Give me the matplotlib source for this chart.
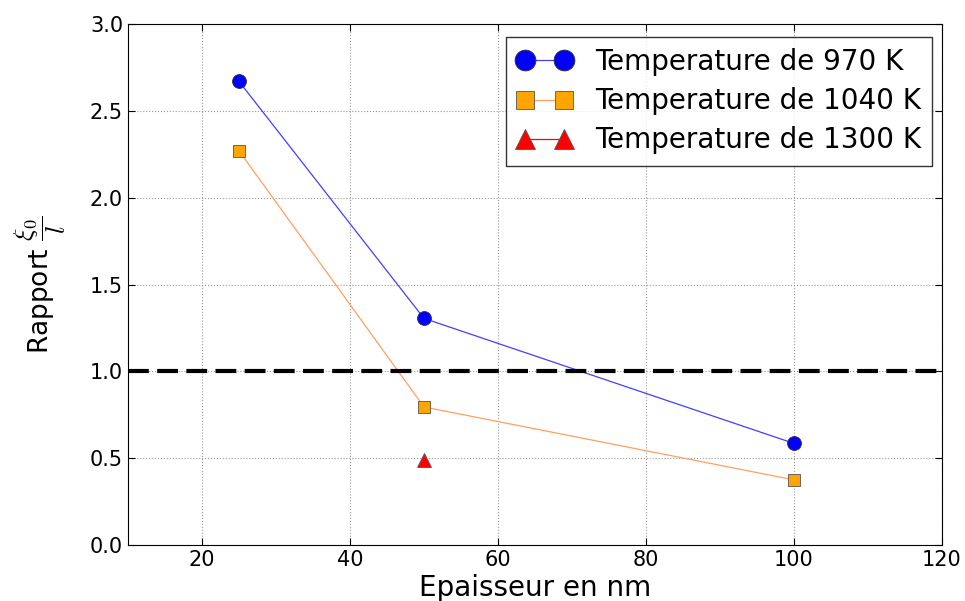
import matplotlib
matplotlib.use("Agg")
import matplotlib.pyplot as plt

# epaisseur (nm) et rapport xi0 / l
ep_970 = [25, 50, 100]
r_970 = [2.67, 1.305, 0.585]
ep_1040 = [25, 50, 100]
r_1040 = [2.27, 0.795, 0.375]
ep_1300 = [50]
r_1300 = [0.49]
seuil = 1.0

plt.rcParams.update({
    "font.family": "DejaVu Sans",
    "xtick.direction": "in",
    "ytick.direction": "in",
    "mathtext.fontset": "cm",
})

fig = plt.figure(figsize=(9.65, 6.01), dpi=100)
ax = fig.add_axes([0.1326, 0.0932, 0.8435, 0.8668])

ax.plot(ep_970, r_970, color=(0.25, 0.25, 1.0), lw=0.9, marker="o", ms=10,
        mfc="blue", mec="#333333", mew=0.6, label="Temperature de 970 K")
ax.plot(ep_1040, r_1040, color="#ffa060", lw=0.9, marker="s", ms=9,
        mfc="orange", mec="#555555", mew=0.6, label="Temperature de 1040 K")
ax.plot(ep_1300, r_1300, color="red", lw=0.9, marker="^", ms=10,
        mfc="red", mec="#555555", mew=0.6, label="Temperature de 1300 K")
ax.axhline(seuil, color="black", lw=3, ls=(0, (5, 2)))

ax.set_xlim(10, 120)
ax.set_ylim(0, 3.0)
ax.set_xticks([20, 40, 60, 80, 100, 120])
ax.set_yticks([0.0, 0.5, 1.0, 1.5, 2.0, 2.5, 3.0])
ax.tick_params(labelsize=15, length=5, top=True, right=True)
ax.grid(True, color="#999999", ls=":", lw=0.8)

ax.set_xlabel("Epaisseur en nm", fontsize=20, labelpad=3)
ax.set_ylabel(r"Rapport $\dfrac{\xi_0}{l}$", fontsize=19, labelpad=16)

leg = ax.legend(loc="upper right", bbox_to_anchor=(0.988, 0.975),
                borderaxespad=0, numpoints=2, markerscale=1.5, fontsize=20,
                fancybox=False, handlelength=2.0, labelspacing=0.4,
                handletextpad=0.8)
leg.get_frame().set_edgecolor("black")

fig.savefig("out.png", dpi=100)
